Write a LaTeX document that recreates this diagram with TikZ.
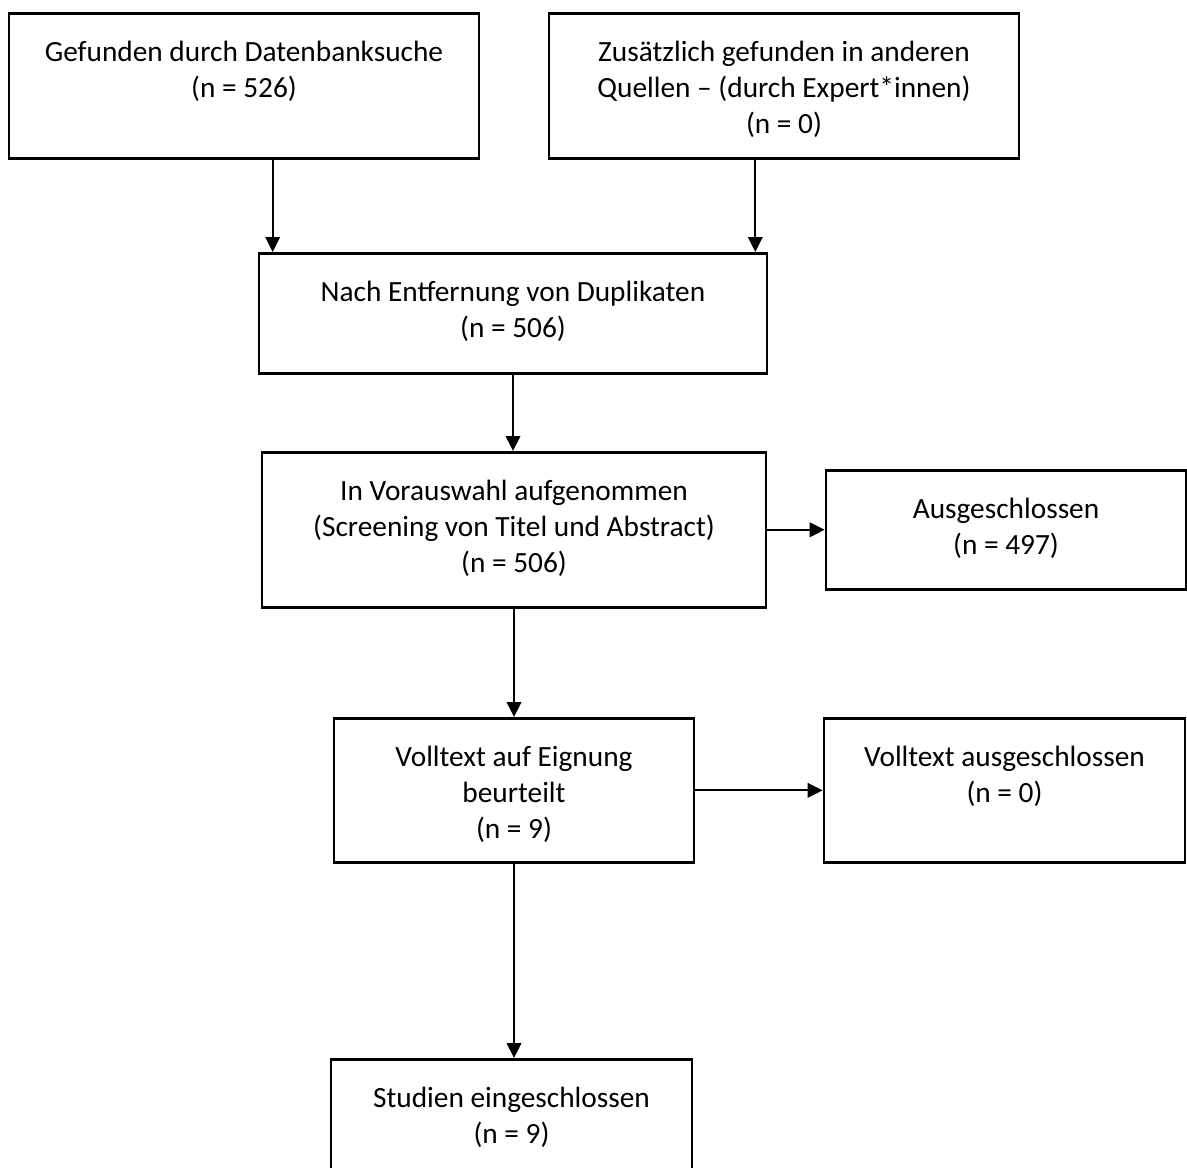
\documentclass[tikz,border=0pt]{standalone}
\usepackage{fontspec}
\setmainfont{Carlito}
\usetikzlibrary{arrows.meta,calc}

\tikzset{
  kasten/.style 2 args={draw, line width=1pt, anchor=north, inner sep=0pt,
    align=flush center, text width=#1, text height=18pt, text depth=#2,
    font=\fontsize{11pt}{13.5pt}\selectfont},
  pfeil/.style={-{Triangle[length=5.6pt,width=5.4pt]}, line width=0.8pt}
}

\begin{document}
\begin{tikzpicture}[x=0.375pt, y=-0.375pt]
        \useasboundingbox (0,0) rectangle (1187,1167);
        \clip (0,0) rectangle (1187,1167);
        % Identifikation
        \node[kasten={176.25pt}{36.4pt}] (daten) at (244,12) {Gefunden durch Datenbanksuche\\(n = 526)};
        \node[kasten={176.25pt}{36.4pt}] (quellen) at (784,12) {Zusätzlich gefunden in anderen\\Quellen – (durch Expert*innen)\\(n = 0)};
        % Vorauswahl
        \node[kasten={190.5pt}{27pt}] (duplikate) at (513,252) {Nach Entfernung von Duplikaten\\(n = 506)};
        \node[kasten={189pt}{40.1pt}] (screening) at (514,451) {In Vorauswahl aufgenommen\\(Screening von Titel und Abstract)\\(n = 506)};
        \node[kasten={135pt}{26.6pt}] (ausgeschl) at (1006,469) {Ausgeschlossen\\(n = 497)};
        % Eignung und Einschluss
        \node[kasten={135pt}{36pt}] (volltext) at (514,717) {Volltext auf Eignung\\beurteilt\\(n = 9)};
        \node[kasten={135.4pt}{36pt}] (vollausgeschl) at (1004.5,717) {Volltext ausgeschlossen\\(n = 0)};
        \node[kasten={135.4pt}{36pt}] (studien) at (511.5,1058) {Studien eingeschlossen\\(n = 9)};
        % Pfeile
        \coordinate (ein1) at ($(duplikate.north west)+(15,0)$);
        \coordinate (ein2) at ($(duplikate.north east)+(-13,0)$);
        \draw[pfeil] (ein1 |- daten.south) -- (ein1);
        \draw[pfeil] (ein2 |- quellen.south) -- (ein2);
        \draw[pfeil] (duplikate.south) -- (duplikate.south |- screening.north);
        \draw[pfeil] (screening.east) -- (ausgeschl.west);
        \draw[pfeil] (screening.south) -- (volltext.north);
        \draw[pfeil] (volltext.east) -- (vollausgeschl.west);
        \draw[pfeil] (volltext.south) -- (volltext.south |- studien.north);
\end{tikzpicture}
\end{document}
